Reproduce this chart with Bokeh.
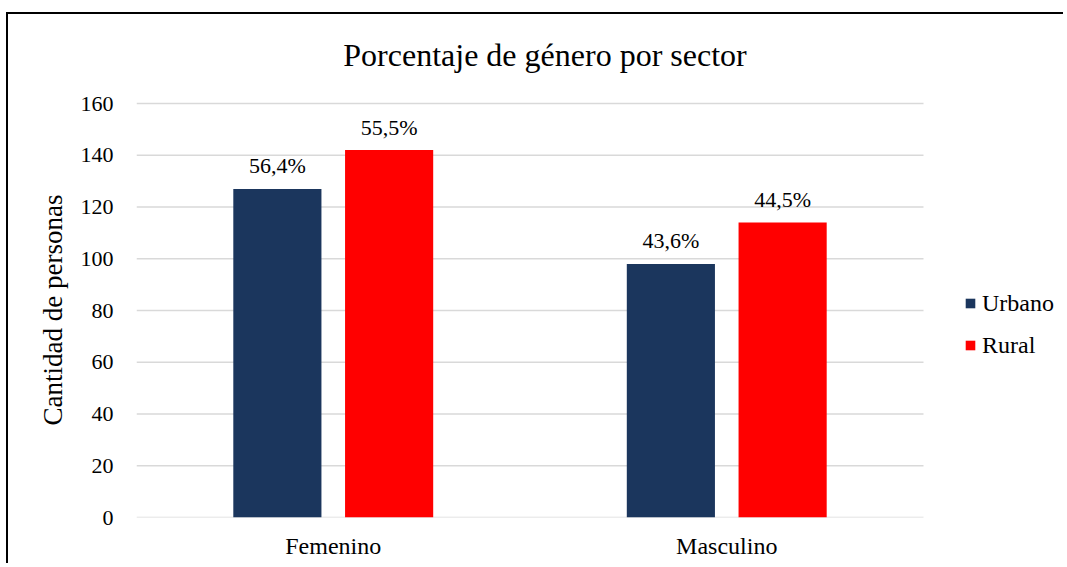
from bokeh.plotting import figure
from bokeh.models import (ColumnDataSource, Range1d, FixedTicker, Title,
                          Label, Legend, LegendItem)
from bokeh.core.properties import value
from bokeh.embed import file_html
from bokeh.resources import INLINE

# ---- data ----
categories = ["Femenino", "Masculino"]
series = ["Urbano", "Rural"]
urbano = [127, 98]
rural = [142, 114]
urbano_labels = ["56,4%", "43,6%"]
rural_labels = ["55,5%", "44,5%"]
y_ticks = [0, 20, 40, 60, 80, 100, 120, 140, 160]
title_text = "Porcentaje de género por sector"
y_label = "Cantidad de personas"
colors = ["#1B365D", "#FF0000"]

FONT = "Liberation Serif"

# ---- layout constants (pixels) ----
W, H = 1057, 551
LEFT, TOP, BOTTOM = 128, 6, 48
frame_w = W - LEFT
frame_h = H - TOP - BOTTOM
plot_w = 787          # width of the two category slots
plot_h = 414          # height of 0..160
x_end = len(categories) * frame_w / plot_w
y_end = y_ticks[-1] * frame_h / plot_h

cx = [i + 0.5 for i in range(len(categories))]
off = 0.142
bw = 0.224

src = ColumnDataSource(dict(
    xu=[c - off for c in cx], xr=[c + off for c in cx],
    urbano=urbano, rural=rural, ul=urbano_labels, rl=rural_labels))

p = figure(x_range=Range1d(0, x_end), y_range=Range1d(0, y_end),
           width=W, height=H,
           min_border_left=LEFT, min_border_right=0,
           min_border_top=TOP, min_border_bottom=BOTTOM,
           output_backend="svg", toolbar_location=None, tools="")
p.styles = {"border-top": "2px solid black", "border-left": "2px solid black",
            "margin-top": "12px", "margin-left": "6px"}
p.outline_line_color = None
p.background_fill_color = "white"
p.border_fill_color = "white"
p.xgrid.grid_line_color = None
p.ygrid.grid_line_color = None

# horizontal gridlines across the category area
p.segment(x0=[0] * len(y_ticks), x1=[len(categories)] * len(y_ticks),
          y0=y_ticks, y1=y_ticks, line_color="#D9D9D9", line_width=1.5)

r1 = p.vbar(x="xu", top="urbano", width=bw, source=src,
            fill_color=colors[0], line_color=None)
r2 = p.vbar(x="xr", top="rural", width=bw, source=src,
            fill_color=colors[1], line_color=None)

p.text(x="xu", y="urbano", text="ul", source=src,
       text_align="center", text_baseline="alphabetic", y_offset=-23,
       text_font=value(FONT), text_font_size=value("22px"), text_color="#000000")
p.text(x="xr", y="rural", text="rl", source=src,
       text_align="center", text_baseline="alphabetic", y_offset=-23,
       text_font=value(FONT), text_font_size=value("22px"), text_color="#000000")

# y axis
p.yaxis.ticker = FixedTicker(ticks=y_ticks)
p.yaxis.axis_line_color = None
p.yaxis.major_tick_line_color = None
p.yaxis.minor_tick_line_color = None
p.yaxis.major_tick_out = 0
p.yaxis.major_tick_in = 0
p.yaxis.major_label_standoff = 23
p.yaxis.major_label_text_font = FONT
p.yaxis.major_label_text_font_size = "22px"
p.yaxis.major_label_text_color = "#000000"

# y axis title, placed along the 0..160 part of the frame
p.add_layout(Title(text=y_label, align="left", offset=92,
                   vertical_align="bottom", standoff=20,
                   text_font=FONT, text_font_size="27px",
                   text_font_style="normal", text_color="#000000"), "left")

# x axis (categories)
p.xaxis.ticker = FixedTicker(ticks=cx)
p.xaxis.major_label_overrides = {c: name for c, name in zip(cx, categories)}
p.xaxis.axis_line_color = None
p.xaxis.major_tick_line_color = None
p.xaxis.minor_tick_line_color = None
p.xaxis.major_tick_out = 0
p.xaxis.major_tick_in = 0
p.xaxis.major_label_standoff = 15
p.xaxis.major_label_text_font = FONT
p.xaxis.major_label_text_font_size = "24px"
p.xaxis.major_label_text_color = "#000000"

# chart title (screen units relative to the plot frame)
p.add_layout(Label(x=408.5, y=462.5, x_units="screen", y_units="screen",
                   text=title_text, text_align="center", text_baseline="alphabetic",
                   text_font=FONT, text_font_size="32px", text_color="#000000"))

legend = Legend(items=[LegendItem(label=series[0], renderers=[r1]),
                       LegendItem(label=series[1], renderers=[r2])],
                location=(828, 158), orientation="vertical",
                glyph_width=12, glyph_height=12, label_standoff=6,
                label_height=28, spacing=14, padding=0, margin=0,
                border_line_color=None, background_fill_alpha=0,
                label_text_font=FONT, label_text_font_size="24px",
                label_text_color="#000000")
p.add_layout(legend, "center")

open("out.html", "w").write(file_html(p, INLINE))
